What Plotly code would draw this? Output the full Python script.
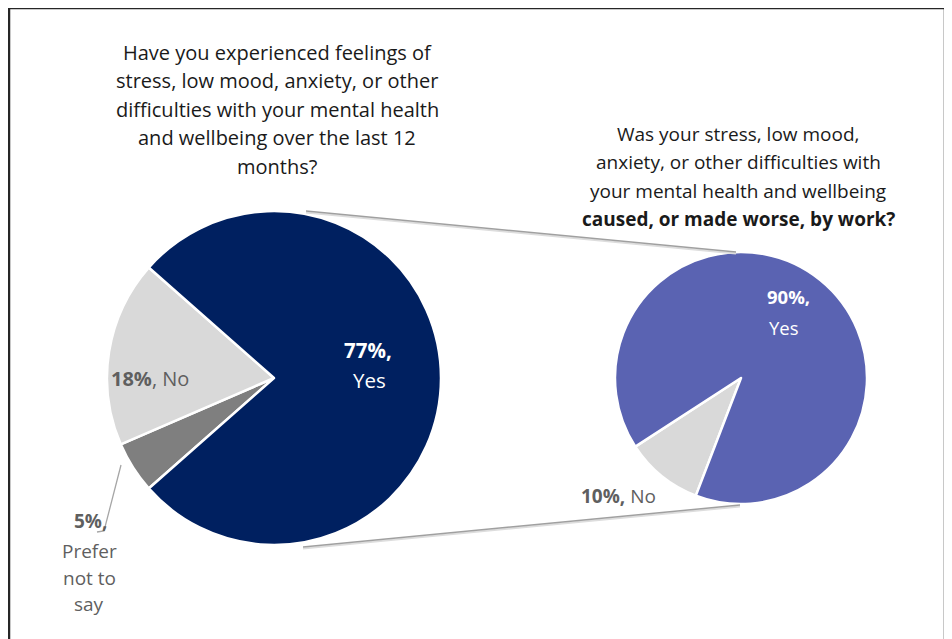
import plotly.graph_objects as go

# ---- data ----
left_labels = ["Prefer not to say", "No", "Yes"]
left_values = [5, 18, 77]
right_labels = ["No", "Yes"]
right_values = [10, 90]

left_title = ["Have you experienced feelings of",
              "stress, low mood, anxiety, or other",
              "difficulties with your mental health",
              "and wellbeing over the last 12",
              "months?"]
right_title = ["Was your stress, low mood,",
               "anxiety, or other difficulties with",
               "your mental health and wellbeing",
               "<b>caused, or made worse, by work?</b>"]

W, H = 952, 639
OFF = 8  # page body margin
FONT = "Open Sans"

def px(x):
    return (x - OFF) / W

def py(y):
    return 1 - (y - OFF) / H

# pie geometry in pixels
LCX, LCY, LR = 274, 378, 167
RCX, RCY, RR = 741, 378, 126

fig = go.Figure()

fig.add_trace(go.Pie(
    labels=left_labels, values=left_values, sort=False,
    direction="clockwise", rotation=228.6,
    marker=dict(colors=["#7F7F7F", "#D9D9D9", "#002060"],
                line=dict(color="white", width=2.5)),
    textinfo="none", hoverinfo="label+percent", showlegend=False,
    domain=dict(x=[px(LCX - LR), px(LCX + LR)], y=[py(LCY + LR), py(LCY - LR)]),
))

fig.add_trace(go.Pie(
    labels=right_labels, values=right_values, sort=False,
    direction="clockwise", rotation=201,
    marker=dict(colors=["#D9D9D9", "#5A63B2"],
                line=dict(color="white", width=2.5)),
    textinfo="none", hoverinfo="label+percent", showlegend=False,
    domain=dict(x=[px(RCX - RR), px(RCX + RR)], y=[py(RCY + RR), py(RCY - RR)]),
))

shapes = []
# frame
shapes.append(dict(type="rect", xref="paper", yref="paper",
                   x0=px(9), x1=px(945), y0=py(680), y1=py(8),
                   line=dict(color="#262626", width=2.5)))
# connectors (with soft shadow)
for (x0, y0, x1, y1) in [(306, LCY - LR, 736, RCY - RR), (303, LCY + LR + 2, 740, RCY + RR + 1)]:
    shapes.append(dict(type="line", xref="paper", yref="paper",
                       x0=px(x0), y0=py(y0 + 1.5), x1=px(x1), y1=py(y1 + 1.5),
                       line=dict(color="#DDDDDD", width=2)))
    shapes.append(dict(type="line", xref="paper", yref="paper",
                       x0=px(x0), y0=py(y0), x1=px(x1), y1=py(y1),
                       line=dict(color="#A0A0A0", width=1.5)))
# leader line for 5%
shapes.append(dict(type="path", xref="paper", yref="paper",
                   path=f"M {px(121)} {py(465)} L {px(104)} {py(531)} L {px(97)} {py(532)}",
                   line=dict(color="#A6A6A6", width=1.3)))

annotations = []

def txt(x, y, s, size, color, anchor="center"):
    annotations.append(dict(x=px(x), y=py(y), xref="paper", yref="paper",
                            text=s, showarrow=False, xanchor=anchor, yanchor="middle",
                            font=dict(family=FONT, size=size, color=color)))

for i, line in enumerate(left_title):
    txt(277, 52 + i * 28.5, line, 20, "#1a1a1a")
for i, line in enumerate(right_title):
    txt(738, 134 + i * 28.3, line, 19, "#1a1a1a")

txt(368, 350, "<b>77%,</b>", 20.5, "white")
txt(369, 380, "Yes", 20.5, "white")
txt(150, 378, "<b>18%</b>, No", 20, "#5F5F5F")
txt(90, 521, "<b>5%,</b>", 19, "#5F5F5F")
txt(89, 551, "Prefer", 19, "#5F5F5F")
txt(89, 578, "not to", 19, "#5F5F5F")
txt(89, 604, "say", 19, "#5F5F5F")
txt(788, 296, "<b>90%,</b>", 18.5, "white")
txt(784, 327, "Yes", 18.5, "white")
txt(618, 496, "<b>10%,</b> No", 19, "#5F5F5F")

fig.update_layout(
    width=W, height=H,
    margin=dict(l=0, r=0, t=0, b=0),
    paper_bgcolor="white", plot_bgcolor="white",
    shapes=shapes, annotations=annotations,
    font=dict(family=FONT),
)

fig.write_html("out.html")
